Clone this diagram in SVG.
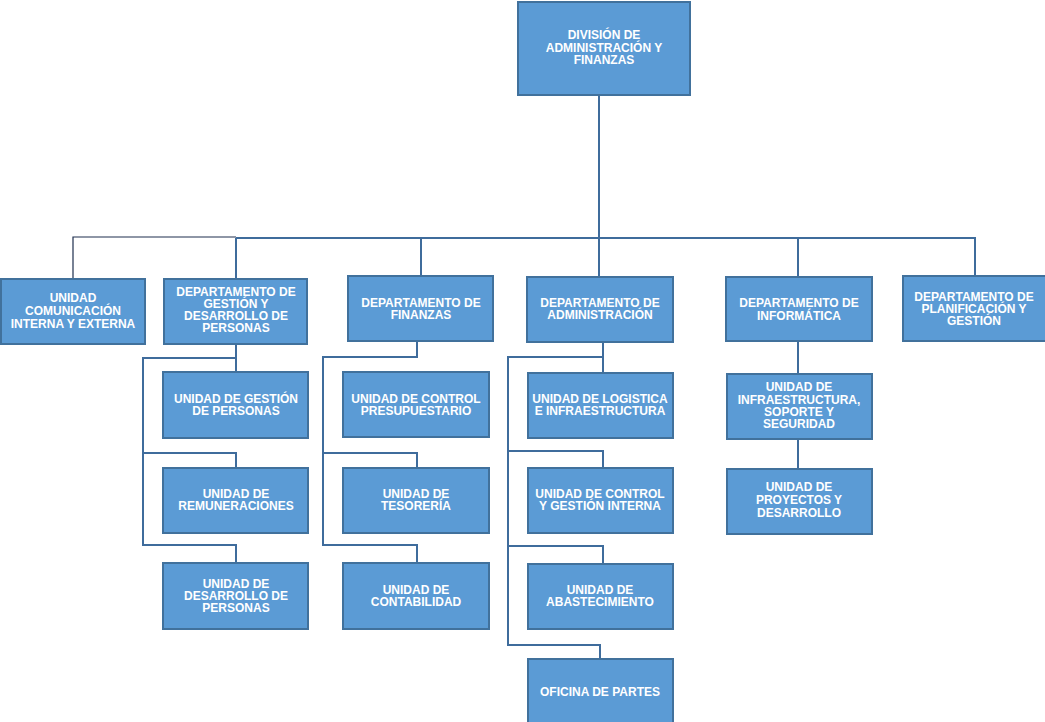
<svg xmlns="http://www.w3.org/2000/svg" width="1045" height="722" viewBox="0 0 1045 722">
<style>
.box{fill:#5b9bd5;stroke:#41719c;stroke-width:2}
.t{fill:#ffffff;font-family:"Liberation Sans",Arial,sans-serif;font-weight:bold;font-size:12px;text-anchor:middle}
.c{fill:none;stroke:#3f6c9c;stroke-width:2}
.cd{fill:none;stroke:#1f2f4f;stroke-width:1.2}
</style>
<rect width="1045" height="722" fill="#ffffff"/>
<g id="connectors">
<path class="c" d="M599,95 V238"/>
<path class="cd" d="M73,279 V237 H236"/>
<path class="c" d="M236,238 H975 V276"/>
<path class="c" d="M236,238 V279"/>
<path class="c" d="M421,238 V276"/>
<path class="c" d="M599,238 V277"/>
<path class="c" d="M798,238 V277"/>
<path class="c" d="M236,344 V372"/>
<path class="c" d="M236,358 H143 V545 H236 V563"/>
<path class="c" d="M143,453 H236 V468"/>
<path class="c" d="M417,341 V357 H323 V545 H417 V563"/>
<path class="c" d="M323,453 H417 V468"/>
<path class="c" d="M603,342 V373"/>
<path class="c" d="M603,357 H508 V645 H600 V659"/>
<path class="c" d="M508,451 H603 V468"/>
<path class="c" d="M508,546 H603 V564"/>
<path class="c" d="M798,341 V374"/>
<path class="c" d="M798,439 V469"/>
</g>
<g id="n-division"><rect class="box" x="518" y="2" width="172" height="93"/><text class="t"><tspan x="604" y="39">DIVISIÓN DE</tspan><tspan x="604" y="52">ADMINISTRACIÓN Y</tspan><tspan x="604" y="64">FINANZAS</tspan></text></g>
<g id="n-comunicacion"><rect class="box" x="1" y="279" width="144" height="65"/><text class="t"><tspan x="73" y="302">UNIDAD</tspan><tspan x="73" y="315">COMUNICACIÓN</tspan><tspan x="73" y="328">INTERNA Y EXTERNA</tspan></text></g>
<g id="n-dep-gestion"><rect class="box" x="164" y="279" width="143" height="65"/><text class="t"><tspan x="236" y="296">DEPARTAMENTO DE</tspan><tspan x="236" y="308">GESTIÓN Y</tspan><tspan x="236" y="320">DESARROLLO DE</tspan><tspan x="236" y="332">PERSONAS</tspan></text></g>
<g id="n-dep-finanzas"><rect class="box" x="348" y="276" width="145" height="65"/><text class="t"><tspan x="421" y="307">DEPARTAMENTO DE</tspan><tspan x="421" y="319">FINANZAS</tspan></text></g>
<g id="n-dep-admin"><rect class="box" x="527" y="277" width="146" height="65"/><text class="t"><tspan x="600" y="307">DEPARTAMENTO DE</tspan><tspan x="600" y="319">ADMINISTRACIÓN</tspan></text></g>
<g id="n-dep-informatica"><rect class="box" x="726" y="277" width="146" height="64"/><text class="t"><tspan x="799" y="307">DEPARTAMENTO DE</tspan><tspan x="799" y="320">INFORMÁTICA</tspan></text></g>
<g id="n-dep-planificacion"><rect class="box" x="903" y="276" width="144" height="65"/><text class="t"><tspan x="974" y="301">DEPARTAMENTO DE</tspan><tspan x="974" y="313">PLANIFICACIÓN Y</tspan><tspan x="974" y="325">GESTIÓN</tspan></text></g>
<g id="n-u-gestion"><rect class="box" x="163" y="372" width="145" height="66"/><text class="t"><tspan x="236" y="403">UNIDAD DE GESTIÓN</tspan><tspan x="236" y="415">DE PERSONAS</tspan></text></g>
<g id="n-u-remuneraciones"><rect class="box" x="163" y="468" width="145" height="65"/><text class="t"><tspan x="236" y="498">UNIDAD DE</tspan><tspan x="236" y="510">REMUNERACIONES</tspan></text></g>
<g id="n-u-desarrollo"><rect class="box" x="163" y="563" width="145" height="66"/><text class="t"><tspan x="236" y="588">UNIDAD DE</tspan><tspan x="236" y="600">DESARROLLO DE</tspan><tspan x="236" y="612">PERSONAS</tspan></text></g>
<g id="n-u-presupuestario"><rect class="box" x="343" y="372" width="146" height="65"/><text class="t"><tspan x="416" y="403">UNIDAD DE CONTROL</tspan><tspan x="416" y="415">PRESUPUESTARIO</tspan></text></g>
<g id="n-u-tesoreria"><rect class="box" x="343" y="468" width="146" height="65"/><text class="t"><tspan x="416" y="498">UNIDAD DE</tspan><tspan x="416" y="510">TESORERÍA</tspan></text></g>
<g id="n-u-contabilidad"><rect class="box" x="343" y="563" width="146" height="66"/><text class="t"><tspan x="416" y="594">UNIDAD DE</tspan><tspan x="416" y="606">CONTABILIDAD</tspan></text></g>
<g id="n-u-logistica"><rect class="box" x="528" y="373" width="145" height="65"/><text class="t"><tspan x="600" y="403">UNIDAD DE LOGISTICA</tspan><tspan x="600" y="415">E INFRAESTRUCTURA</tspan></text></g>
<g id="n-u-control"><rect class="box" x="528" y="468" width="145" height="65"/><text class="t"><tspan x="600" y="498">UNIDAD DE CONTROL</tspan><tspan x="600" y="510">Y GESTIÓN  INTERNA</tspan></text></g>
<g id="n-u-abastecimiento"><rect class="box" x="528" y="564" width="145" height="65"/><text class="t"><tspan x="600" y="594">UNIDAD DE</tspan><tspan x="600" y="606">ABASTECIMIENTO</tspan></text></g>
<g id="n-oficina"><rect class="box" x="528" y="659" width="145" height="70"/><text class="t" x="600" y="696">OFICINA  DE PARTES</text></g>
<g id="n-u-infra"><rect class="box" x="727" y="374" width="145" height="65"/><text class="t"><tspan x="799" y="391">UNIDAD DE</tspan><tspan x="799" y="404">INFRAESTRUCTURA,</tspan><tspan x="799" y="416">SOPORTE Y</tspan><tspan x="799" y="428">SEGURIDAD</tspan></text></g>
<g id="n-u-proyectos"><rect class="box" x="727" y="469" width="145" height="65"/><text class="t"><tspan x="799" y="491">UNIDAD DE</tspan><tspan x="799" y="504">PROYECTOS Y</tspan><tspan x="799" y="517">DESARROLLO</tspan></text></g>
</svg>
